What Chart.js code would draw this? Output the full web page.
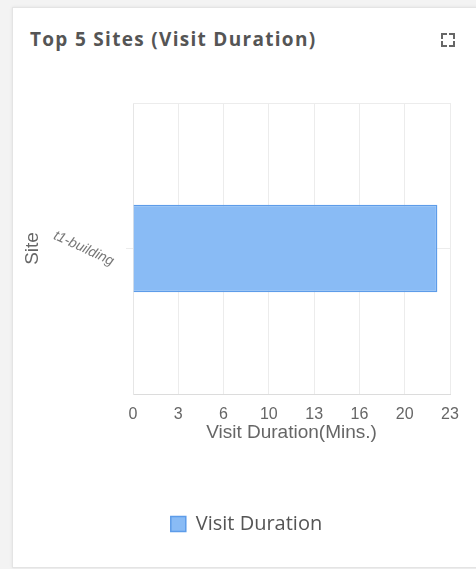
<!DOCTYPE html>
<html>
<head>
<meta charset="utf-8">
<script src="https://cdn.jsdelivr.net/npm/chart.js@4/dist/chart.umd.min.js"></script>
<style>
  html, body { margin: 0; padding: 0; background: #f3f3f3; width: 476px; height: 569px; overflow: hidden; }
  .card { position: absolute; left: 12px; top: 7px; width: 470px; height: 559px; background: #fff; border: 1px solid #e4e4e4; box-shadow: 0 0 3px rgba(0,0,0,0.08); }
  .title { position: absolute; left: 30px; top: 26px; font-family: "Open Sans", sans-serif; font-weight: 700; font-size: 19px; letter-spacing: 1.3px; color: #555; white-space: nowrap; }
  .expand { position: absolute; left: 441px; top: 33px; width: 14px; height: 14px; }
  .expand span { position: absolute; width: 4px; height: 4px; border-color: #666; border-style: solid; border-width: 0; }
  .expand .tl { left: 0; top: 0; border-left-width: 2px; border-top-width: 2px; }
  .expand .tr { right: 0; top: 0; border-right-width: 2px; border-top-width: 2px; }
  .expand .bl { left: 0; bottom: 0; border-left-width: 2px; border-bottom-width: 2px; }
  .expand .br { right: 0; bottom: 0; border-right-width: 2px; border-bottom-width: 2px; }
  #wrap { position: absolute; left: 0; top: 0; width: 476px; height: 569px; }
</style>
</head>
<body>
<div class="card"></div>
<div class="title">Top 5 Sites (Visit Duration)</div>
<div class="expand"><span class="tl"></span><span class="tr"></span><span class="bl"></span><span class="br"></span></div>
<div id="wrap"><canvas id="c" width="476" height="569"></canvas></div>
<script>
const sites = ['t1-building'];
const visitDuration = [22.4];
const seriesName = 'Visit Duration';
const xTickLabels = ['0', '3', '6', '10', '13', '16', '20', '23'];
const xMax = 23.33;
const xTitle = 'Visit Duration(Mins.)';
const yTitle = 'Site';

const topBorder = {
  id: 'topBorder',
  beforeDatasetsDraw(chart) {
    const { ctx, chartArea } = chart;
    ctx.save();
    ctx.strokeStyle = '#ececec';
    ctx.lineWidth = 1;
    ctx.beginPath();
    ctx.moveTo(chartArea.left, Math.round(chartArea.top) + 0.5);
    ctx.lineTo(chartArea.right, Math.round(chartArea.top) + 0.5);
    ctx.stroke();
    ctx.restore();
  }
};

new Chart(document.getElementById('c'), {
  type: 'bar',
  data: {
    labels: sites,
    datasets: [{
      label: seriesName,
      data: visitDuration,
      backgroundColor: '#89bbf5',
      borderColor: '#5d9ce9',
      borderWidth: 1.5,
      barPercentage: 0.3,
      categoryPercentage: 1
    }]
  },
  options: {
    indexAxis: 'y',
    responsive: false,
    animation: false,
    layout: { padding: { top: 103, left: 43, right: 26, bottom: 25 } },
    scales: {
      x: {
        min: 0,
        max: xMax,
        afterBuildTicks(axis) {
          axis.ticks = xTickLabels.map((_, i) => ({ value: xMax * i / (xTickLabels.length - 1) }));
        },
        afterFit(scale) { scale.height = 110; },
        grid: { color: '#ececec', drawTicks: false },
        border: { color: '#dcdcdc' },
        ticks: {
          padding: 13,
          color: '#666',
          font: { family: 'Liberation Sans, Arial, sans-serif', size: 16, lineHeight: 1 },
          maxRotation: 0,
          callback: (v, i) => xTickLabels[i]
        },
        title: {
          display: true,
          text: xTitle,
          color: '#666',
          font: { family: 'Liberation Sans, Arial, sans-serif', size: 19, lineHeight: 1 },
          padding: { top: 0, bottom: 62 }
        }
      },
      y: {
        afterFit(scale) { scale.width = 90; },
        grid: { color: '#ececec', offset: false, tickLength: 7 },
        border: { color: '#e6e6e6' },
        ticks: {
          color: '#777',
          padding: 10,
          crossAlign: 'center',
          minRotation: -25,
          maxRotation: -25,
          font: { family: 'Liberation Sans, Arial, sans-serif', size: 14, style: 'italic' }
        },
        title: {
          display: true,
          text: yTitle,
          color: '#666',
          font: { family: 'Liberation Sans, Arial, sans-serif', size: 19 },
          padding: { top: -22, bottom: 0 }
        }
      }
    },
    plugins: {
      legend: {
        position: 'bottom',
        labels: {
          boxWidth: 15,
          boxHeight: 15,
          padding: 10,
          color: '#555',
          font: { family: 'Open Sans, sans-serif', size: 20 }
        }
      },
      tooltip: { enabled: false }
    }
  },
  plugins: [topBorder]
});
</script>
</body>
</html>
